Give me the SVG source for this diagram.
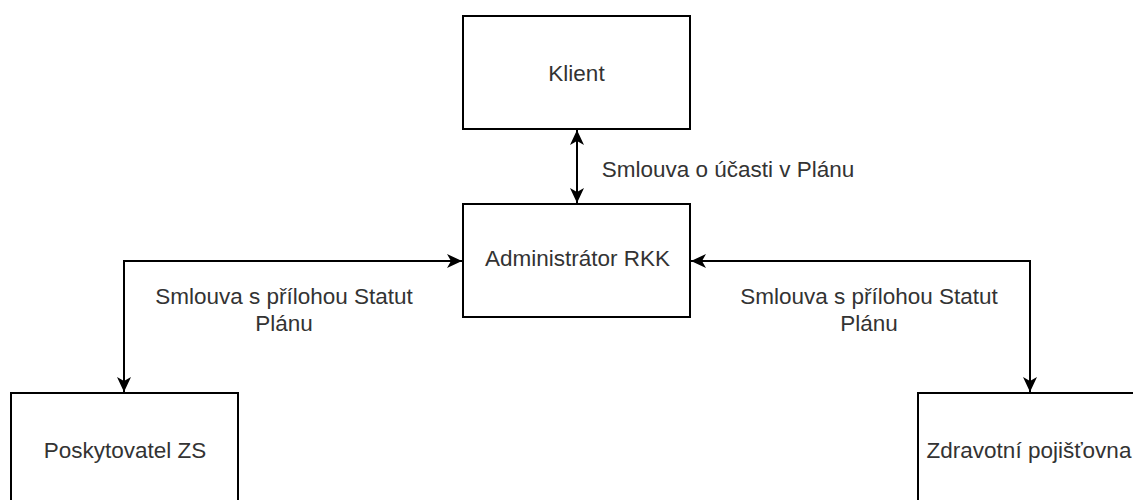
<svg xmlns="http://www.w3.org/2000/svg" width="1133" height="500" viewBox="0 0 1133 500">
  <style>
    .box { fill: #ffffff; stroke: #000000; stroke-width: 2; }
    .lbl { font-family: "Liberation Sans", Arial, sans-serif; font-size: 22.5px; fill: #333333; text-anchor: middle; }
    .edge { fill: none; stroke: #000000; stroke-width: 2; }
  </style>
  <defs>
    <marker id="arrow" markerUnits="userSpaceOnUse" markerWidth="16" markerHeight="14" refX="15" refY="7" orient="auto-start-reverse">
      <path d="M0,0 L15,7 L0,14 L4,7 Z" fill="#000000"/>
    </marker>
  </defs>
  <rect width="1133" height="500" fill="#ffffff"/>

  <g id="connectors">
    <line class="edge" x1="577" y1="130" x2="577" y2="203" marker-start="url(#arrow)" marker-end="url(#arrow)"/>
    <path class="edge" d="M462,261 H124 V392" marker-start="url(#arrow)" marker-end="url(#arrow)"/>
    <path class="edge" d="M691,261 H1030 V392" marker-start="url(#arrow)" marker-end="url(#arrow)"/>
    <text class="lbl" x="728" y="177">Smlouva o účasti v Plánu</text>
    <text class="lbl" x="284" y="304">Smlouva s přílohou Statut</text>
    <text class="lbl" x="284" y="331">Plánu</text>
    <text class="lbl" x="869" y="304">Smlouva s přílohou Statut</text>
    <text class="lbl" x="869" y="331">Plánu</text>
  </g>

  <g id="klient">
    <rect class="box" x="463" y="16" width="227" height="113"/>
    <text class="lbl" x="576.5" y="81">Klient</text>
  </g>
  <g id="administrator">
    <rect class="box" x="463" y="204" width="227" height="113"/>
    <text class="lbl" x="577.5" y="266">Administrátor RKK</text>
  </g>
  <g id="poskytovatel">
    <rect class="box" x="11" y="393" width="227" height="113"/>
    <text class="lbl" x="125" y="458">Poskytovatel ZS</text>
  </g>
  <g id="pojistovna">
    <rect class="box" x="918" y="393" width="227" height="113"/>
    <text class="lbl" x="1029" y="458">Zdravotní pojišťovna</text>
  </g>
</svg>
